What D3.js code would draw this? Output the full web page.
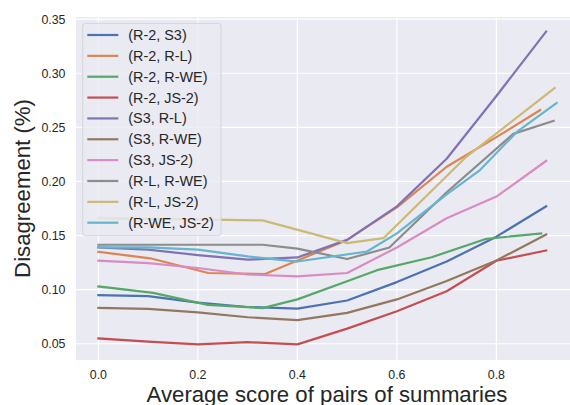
<!DOCTYPE html>
<html>
<head>
<meta charset="utf-8">
<script src="https://cdn.jsdelivr.net/npm/d3@7"></script>
<style>
  body { margin: 0; background: #fff; }
  text { font-family: "Liberation Sans", Arial, sans-serif; fill: #262626; }
</style>
</head>
<body>
<div id="vis"></div>
<script>
const width = 570;
const height = 405;

// series labels, in legend order
const labels = ['(R-2, S3)', '(R-2, R-L)', '(R-2, R-WE)', '(R-2, JS-2)', '(S3, R-L)',
  '(S3, R-WE)', '(S3, JS-2)', '(R-L, R-WE)', '(R-L, JS-2)', '(R-WE, JS-2)'];
const colors = ['#4C72B0', '#DD8452', '#55A868', '#C44E52', '#8172B3',
  '#937860', '#DA8BC3', '#8C8C8C', '#CCB974', '#64B5CD'];

const xGrid = [0, 0.1, 0.2, 0.3, 0.4, 0.5, 0.6, 0.7, 0.8, 0.9];

const xR2S3 = xGrid;
const yR2S3 = [0.095, 0.094, 0.088, 0.084, 0.0825, 0.090, 0.107, 0.126, 0.149, 0.177];
const xR2RL = [0, 0.104, 0.221, 0.335, 0.5, 0.6, 0.7, 0.8, 0.888];
const yR2RL = [0.135, 0.129, 0.1154, 0.1145, 0.146, 0.176, 0.2136, 0.241, 0.266];
const xR2RWE = [0, 0.11, 0.22, 0.33, 0.4, 0.5, 0.56, 0.67, 0.78, 0.89];
const yR2RWE = [0.103, 0.097, 0.086, 0.083, 0.091, 0.1077, 0.118, 0.130, 0.147, 0.152];
const xR2JS2 = xGrid;
const yR2JS2 = [0.0549, 0.052, 0.0494, 0.0515, 0.0494, 0.064, 0.080, 0.0985, 0.1267, 0.1362];
const xS3RL = xGrid;
const yS3RL = [0.139, 0.137, 0.132, 0.1277, 0.1298, 0.146, 0.177, 0.221, 0.279, 0.3386];
const xS3RWE = xGrid;
const yS3RWE = [0.0832, 0.0822, 0.079, 0.0745, 0.0718, 0.0786, 0.091, 0.108, 0.127, 0.151];
const xS3JS2 = xGrid;
const yS3JS2 = [0.1268, 0.1246, 0.12, 0.114, 0.1123, 0.1154, 0.139, 0.166, 0.186, 0.219];
const xRLRWE = [0, 0.1, 0.2, 0.33, 0.4, 0.5, 0.585, 0.7, 0.834, 0.915];
const yRLRWE = [0.1415, 0.1415, 0.1415, 0.1415, 0.138, 0.1283, 0.139, 0.19, 0.244, 0.256];
const xRLJS2 = [0, 0.1, 0.2, 0.33, 0.5, 0.573, 0.74, 0.917];
const yRLJS2 = [0.166, 0.1655, 0.165, 0.164, 0.143, 0.1476, 0.223, 0.2863];
const xRWEJS2 = [0, 0.1, 0.2, 0.3, 0.4, 0.54, 0.6, 0.7, 0.767, 0.841, 0.921];
const yRWEJS2 = [0.139, 0.139, 0.137, 0.1307, 0.126, 0.1353, 0.152, 0.188, 0.2105, 0.2458, 0.2725];

const xTicks = [0, 0.2, 0.4, 0.6, 0.8];
const yTicks = [0.05, 0.10, 0.15, 0.20, 0.25, 0.30, 0.35];

const seriesX = [xR2S3, xR2RL, xR2RWE, xR2JS2, xS3RL, xS3RWE, xS3JS2, xRLRWE, xRLJS2, xRWEJS2];
const seriesY = [yR2S3, yR2RL, yR2RWE, yR2JS2, yS3RL, yS3RWE, yS3JS2, yRLRWE, yRLJS2, yRWEJS2];

const plot = { left: 76, right: 578, top: 17, bottom: 360 };

const x = d3.scaleLinear().domain([-0.045, 0.964]).range([plot.left, plot.right]);
const y = d3.scaleLinear().domain([0.035, 0.352]).range([plot.bottom, plot.top]);

const svg = d3.select('#vis').append('svg')
  .attr('width', width)
  .attr('height', height);

// background
svg.append('rect')
  .attr('x', plot.left)
  .attr('y', plot.top)
  .attr('width', plot.right - plot.left)
  .attr('height', plot.bottom - plot.top)
  .attr('fill', '#EAEAF2');

// grid
svg.append('g').selectAll('line')
  .data(xTicks)
  .join('line')
  .attr('x1', d => x(d)).attr('x2', d => x(d))
  .attr('y1', plot.top).attr('y2', plot.bottom)
  .attr('stroke', '#fff').attr('stroke-width', 1.2);
svg.append('g').selectAll('line')
  .data(yTicks)
  .join('line')
  .attr('x1', plot.left).attr('x2', plot.right)
  .attr('y1', d => y(d)).attr('y2', d => y(d))
  .attr('stroke', '#fff').attr('stroke-width', 1.2);

// tick labels
svg.append('g').selectAll('text')
  .data(xTicks)
  .join('text')
  .attr('x', d => x(d))
  .attr('y', 379)
  .attr('text-anchor', 'middle')
  .style('font-size', '12.4px')
  .text(d3.format('.1f'));
svg.append('g').selectAll('text')
  .data(yTicks)
  .join('text')
  .attr('x', 65.5)
  .attr('y', d => y(d))
  .attr('dy', '0.35em')
  .attr('text-anchor', 'end')
  .style('font-size', '12.4px')
  .text(d3.format('.2f'));

// axis titles
svg.append('text')
  .attr('x', (plot.left + plot.right) / 2)
  .attr('y', 401.5)
  .attr('text-anchor', 'middle')
  .style('font-size', '22.2px')
  .text('Average score of pairs of summaries');
svg.append('text')
  .attr('transform', `translate(29.5, ${(plot.top + plot.bottom) / 2}) rotate(-90)`)
  .attr('text-anchor', 'middle')
  .style('font-size', '22.2px')
  .text('Disagreement (%)');

// lines
const line = d3.line()
  .x(d => x(d[0]))
  .y(d => y(d[1]));

svg.append('clipPath').attr('id', 'clip')
  .append('rect')
  .attr('x', plot.left).attr('y', plot.top)
  .attr('width', plot.right - plot.left).attr('height', plot.bottom - plot.top);

svg.append('g')
  .attr('clip-path', 'url(#clip)')
  .selectAll('path')
  .data(labels.map((l, i) => d3.zip(seriesX[i], seriesY[i])))
  .join('path')
  .attr('d', line)
  .attr('fill', 'none')
  .attr('stroke', (d, i) => colors[i])
  .attr('stroke-width', 2.2)
  .attr('stroke-linejoin', 'round')
  .attr('stroke-linecap', 'square');

// legend
const legend = svg.append('g');
legend.append('rect')
  .attr('x', 82.7).attr('y', 23.3)
  .attr('width', 138.3).attr('height', 212.4)
  .attr('rx', 3)
  .attr('fill', '#EAEAF2').attr('fill-opacity', 0.8)
  .attr('stroke', '#d4d4dc').attr('stroke-width', 1);

const rowY = d3.scaleLinear().domain([0, 9]).range([35, 222.7]);
const rows = legend.selectAll('g.row')
  .data(labels)
  .join('g')
  .attr('class', 'row')
  .attr('transform', (d, i) => `translate(0, ${rowY(i)})`);
rows.append('line')
  .attr('x1', 87.3).attr('x2', 118.3)
  .attr('stroke', (d, i) => colors[i])
  .attr('stroke-width', 2.2);
rows.append('text')
  .attr('x', 128.3)
  .attr('dy', '0.35em')
  .style('font-size', '14.4px')
  .text(d => d);
</script>
</body>
</html>
